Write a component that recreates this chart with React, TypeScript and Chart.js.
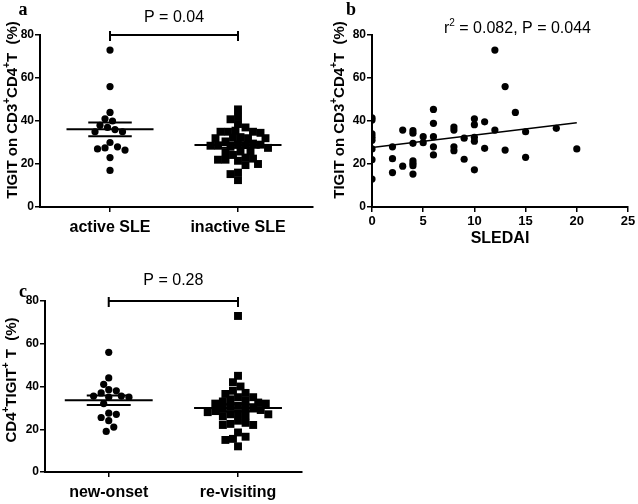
import React, { useEffect, useRef } from "react";
import { Chart, registerables } from "chart.js";

Chart.register(...registerables);

// ---------------- DATA ----------------
const groupsA = ["active SLE", "inactive SLE"];
const activeSLE = [73, 56, 44, 40, 41, 37, 38, 36, 35, 35, 30, 28, 27.5, 26.5, 27, 23, 17];
const inactiveSLE = [
  45.4, 42, 40.8, 38.6, 37, 35.5, 35, 35, 35, 34.5, 32.5, 32.3, 32, 32, 32, 30.5, 29.5, 29, 29,
  28.8, 28.5, 28.5, 28, 27.5, 26, 25.8, 25.5, 24.2, 23, 22.5, 22, 22, 21.5, 20, 19.5, 16, 15.3, 12.5,
];
const pTextA = "P = 0.04";

const sledai = [
  0, 0, 0, 0, 0, 0, 0, 0,
  2, 2, 2,
  3, 3,
  4, 4, 4, 4, 4, 4, 4,
  5, 5,
  6, 6, 6, 6, 6,
  8, 8, 8, 8,
  9, 9,
  10, 10, 10, 10, 10,
  11, 11,
  12, 12,
  13, 13,
  14,
  15, 15,
  18,
  20,
];
const tigitB = [
  41.5, 40.5, 34, 32.5, 31, 27, 22, 13,
  28, 22.5, 16,
  35.8, 19,
  35.5, 34.3, 29.6, 21.5, 20.3, 19.2, 15.3,
  32.7, 29.9,
  45.4, 38.9, 32.7, 28, 24.2,
  37.2, 35.8, 28, 26.2,
  32, 22.2,
  41, 38.3, 32.4, 30.6, 17.3,
  39.6, 27.3,
  73, 35.8,
  56, 26.5,
  44,
  35, 23.1,
  36.6,
  27,
];
const fitX = [0, 20];
const fitY = [27.7, 39.2];
const statTextB = [{ t: "r" }, { t: "2", sup: true }, { t: " = 0.082, P = 0.044" }];
const xTicksB = [0, 5, 10, 15, 20, 25];

const groupsC = ["new-onset", "re-visiting"];
const newOnset = [56, 44, 41, 38, 38.5, 37, 35.5, 35.5, 35, 35, 32, 27.5, 27, 25.5, 24, 21, 19];
const reVisiting = [
  73, 45, 42, 40, 38, 37, 36.5, 35, 35, 34, 33.5, 33, 32.5, 32, 32, 31, 30.5, 30, 30, 29.5,
  29, 28.5, 28, 27.5, 27, 27, 26.5, 26, 24, 23, 22.5, 22, 22, 18.5, 16.5, 15.5, 15, 12,
];
const pTextC = "P = 0.28";

const yTicks = [0, 20, 40, 60, 80];
const yTitleAB = [{ t: "TIGIT on CD3" }, { t: "+", sup: true }, { t: "CD4" }, { t: "+", sup: true }, { t: "T  (%)" }];
const yTitleC = [{ t: "CD4" }, { t: "+", sup: true }, { t: "TIGIT" }, { t: "+", sup: true }, { t: " T  (%)" }];

// ---------------- HELPERS ----------------
const FONT = "'Liberation Sans', Arial, Helvetica, sans-serif";
const SERIF = "'Liberation Serif', 'Times New Roman', serif";

type Seg = { t: string; sup?: boolean };

function drawRich(
  ctx: CanvasRenderingContext2D,
  segs: Seg[],
  cx: number,
  cy: number,
  size: number,
  weight: string,
  rotate: boolean
) {
  ctx.save();
  ctx.translate(cx, cy);
  if (rotate) ctx.rotate(-Math.PI / 2);
  const fontFor = (s: Seg) => `${weight} ${s.sup ? Math.round(size * 0.65) : size}px ${FONT}`;
  let total = 0;
  const widths = segs.map((s) => {
    ctx.font = fontFor(s);
    const w = ctx.measureText(s.t).width;
    total += w;
    return w;
  });
  let x = -total / 2;
  ctx.fillStyle = "#000";
  ctx.textAlign = "left";
  ctx.textBaseline = "middle";
  segs.forEach((s, i) => {
    ctx.font = fontFor(s);
    ctx.fillText(s.t, x, s.sup ? -size * 0.38 : 0);
    x += widths[i];
  });
  ctx.restore();
}

function drawText(ctx: CanvasRenderingContext2D, t: string, x: number, y: number, font: string) {
  ctx.save();
  ctx.font = font;
  ctx.fillStyle = "#000";
  ctx.textAlign = "center";
  ctx.textBaseline = "middle";
  ctx.fillText(t, x, y);
  ctx.restore();
}

// beeswarm placement computed from the values (pixel-space collision on a fine grid)
function beeswarm(values: number[], pxPerY: number, pxPerX: number, dist: number, gridPx: number): number[] {
  const order = values.map((_, i) => i).sort((a, b) => values[b] - values[a]);
  const out = new Array(values.length).fill(0);
  const placed: { x: number; y: number }[] = [];
  let flip = false;
  for (const i of order) {
    const y = values[i] * pxPerY;
    let found = false;
    for (let d = 0; d <= 100 && !found; d += gridPx) {
      const signs = d === 0 ? [1] : flip ? [1, -1] : [-1, 1];
      for (const s of signs) {
        const x = s * d;
        const ok = placed.every((p) => (p.x - x) ** 2 + (p.y - y) ** 2 >= dist * dist);
        if (ok) {
          placed.push({ x, y });
          out[i] = x / pxPerX;
          found = true;
          if (d > 0) flip = !flip;
          break;
        }
      }
    }
  }
  return out;
}

function stats(values: number[]) {
  const n = values.length;
  const mean = values.reduce((a, b) => a + b, 0) / n;
  const sd = Math.sqrt(values.reduce((a, b) => a + (b - mean) ** 2, 0) / (n - 1));
  return { mean, sem: sd / Math.sqrt(n) };
}

function lineDs(x0: number, x1: number, y: number, w = 2) {
  return {
    data: [
      { x: x0, y },
      { x: x1, y },
    ],
    showLine: true,
    borderColor: "#000",
    borderWidth: w,
    pointRadius: 0,
    fill: false,
  };
}

function groupDatasets(values: number[], cat: number, style: "circle" | "rect") {
  const offs = beeswarm(values, 2.15, 128, 7, 2.5);
  const { mean, sem } = stats(values);
  return [
    lineDs(cat - 0.34, cat + 0.34, mean),
    lineDs(cat - 0.17, cat + 0.17, mean + sem),
    lineDs(cat - 0.17, cat + 0.17, mean - sem),
    {
      data: values.map((v, i) => ({ x: cat + offs[i], y: v })),
      showLine: false,
      pointStyle: style,
      pointRadius: style === "rect" ? 5.6 : 3.6,
      pointBackgroundColor: "#000",
      pointBorderWidth: 0,
      borderColor: "#000",
    },
  ];
}

const gridStyle = {
  display: true,
  drawOnChartArea: false,
  drawTicks: true,
  tickLength: 5,
  color: "#000",
  lineWidth: 1.5,
};
const borderStyle = { display: true, color: "#000", width: 2 };

function yAxis(width: number) {
  return {
    type: "linear",
    min: 0,
    max: 80,
    afterBuildTicks: (s: any) => {
      s.ticks = yTicks.map((v) => ({ value: v }));
    },
    ticks: { color: "#000", font: { family: FONT, weight: "bold", size: 12 }, padding: 1 },
    grid: gridStyle,
    border: borderStyle,
    afterFit: (s: any) => {
      s.width = width;
    },
  };
}

function dotConfig(
  groups: string[],
  g1: number[],
  g2: number[],
  xmin: number,
  xmax: number,
  pad: any,
  yWidth: number,
  xHeight: number,
  extra: (chart: any) => void
) {
  return {
    type: "scatter",
    data: {
      datasets: [...groupDatasets(g1, 0, "circle"), ...groupDatasets(g2, 1, "rect")],
    },
    options: {
      animation: false,
      responsive: false,
      devicePixelRatio: 1,
      layout: { padding: pad },
      plugins: { legend: { display: false }, tooltip: { enabled: false } },
      scales: {
        x: {
          type: "linear",
          min: xmin,
          max: xmax,
          afterBuildTicks: (s: any) => {
            s.ticks = [0, 1].map((v) => ({ value: v }));
          },
          ticks: {
            color: "#000",
            autoSkip: false,
            maxRotation: 0,
            padding: 6,
            font: { family: FONT, weight: "bold", size: 16 },
            callback: (v: any) => groups[Math.round(Number(v))],
          },
          grid: gridStyle,
          border: borderStyle,
          afterFit: (s: any) => {
            s.height = xHeight;
          },
        },
        y: yAxis(yWidth),
      },
    },
    plugins: [{ id: "decor", afterDraw: extra }],
  };
}

function bracket(chart: any, text: string, textY: number) {
  const ctx = chart.ctx;
  const xs = chart.scales.x;
  const ys = chart.scales.y;
  const x0 = xs.getPixelForValue(0);
  const x1 = xs.getPixelForValue(1);
  const y = ys.getPixelForValue(80);
  ctx.save();
  ctx.strokeStyle = "#000";
  ctx.lineWidth = 2;
  ctx.beginPath();
  ctx.moveTo(x0, y);
  ctx.lineTo(x1, y);
  ctx.moveTo(x0, y - 4);
  ctx.lineTo(x0, y + 6);
  ctx.moveTo(x1, y - 4);
  ctx.lineTo(x1, y + 6);
  ctx.stroke();
  ctx.restore();
  drawText(ctx, text, (x0 + x1) / 2, textY, `16px ${FONT}`);
}

const configA = () =>
  dotConfig(groupsA, activeSLE, inactiveSLE, -0.547, 1.586, { left: 0, top: 35, right: 7, bottom: 0 }, 40, 43, (chart: any) => {
    const ctx = chart.ctx;
    drawText(ctx, "a", 23, 10, `bold 18px ${SERIF}`);
    bracket(chart, pTextA, 17.5);
    drawRich(ctx, yTitleAB, 12.5, 110, 15, "bold", true);
  });

const configC = () =>
  dotConfig(groupsC, newOnset, reVisiting, -0.493, 1.495, { left: 0, top: 51, right: 18, bottom: 0 }, 45, 32, (chart: any) => {
    const ctx = chart.ctx;
    drawText(ctx, "c", 23, 42, `bold 18px ${SERIF}`);
    bracket(chart, pTextC, 31);
    drawRich(ctx, yTitleC, 12, 130, 15, "bold", true);
  });

const configB = () => ({
  type: "scatter",
  data: {
    datasets: [
      {
        data: fitX.map((x, i) => ({ x, y: fitY[i] })),
        showLine: true,
        borderColor: "#000",
        borderWidth: 1.6,
        pointRadius: 0,
      },
      {
        data: sledai.map((x, i) => ({ x, y: tigitB[i] })),
        showLine: false,
        pointStyle: "circle",
        pointRadius: 3.6,
        pointBackgroundColor: "#000",
        pointBorderWidth: 0,
      },
    ],
  },
  options: {
    animation: false,
    responsive: false,
    devicePixelRatio: 1,
    layout: { padding: { left: 0, top: 35, right: 10, bottom: 0 } },
    plugins: { legend: { display: false }, tooltip: { enabled: false } },
    scales: {
      x: {
        type: "linear",
        min: 0,
        max: 25,
        afterBuildTicks: (s: any) => {
          s.ticks = xTicksB.map((v) => ({ value: v }));
        },
        ticks: { color: "#000", autoSkip: false, maxRotation: 0, padding: 2, font: { family: FONT, weight: "bold", size: 13 } },
        title: {
          display: true,
          text: "SLEDAI",
          color: "#000",
          font: { family: FONT, weight: "bold", size: 16 },
          padding: { top: 4, bottom: 2 },
        },
        grid: gridStyle,
        border: borderStyle,
        afterFit: (s: any) => {
          s.height = 43;
        },
      },
      y: yAxis(52),
    },
  },
  plugins: [
    {
      id: "decorB",
      afterDraw: (chart: any) => {
        const ctx = chart.ctx;
        drawText(ctx, "b", 31, 10, `bold 18px ${SERIF}`);
        drawRich(ctx, statTextB, 197.5, 29, 16, "normal", false);
        drawRich(ctx, yTitleAB, 20, 110, 15, "bold", true);
      },
    },
  ],
});

function Panel({ left, top, width, height, make }: any) {
  const ref = useRef<HTMLCanvasElement>(null);
  useEffect(() => {
    if (!ref.current) return;
    const chart = new Chart(ref.current, make());
    return () => chart.destroy();
  }, []);
  return (
    <div style={{ position: "absolute", left, top, width, height }}>
      <canvas ref={ref} width={width} height={height} style={{ display: "block", width, height }} />
    </div>
  );
}

export default function App() {
  return (
    <div style={{ position: "absolute", left: 0, top: 0, width: 638, height: 504, background: "#fff" }}>
      <Panel left={0} top={0} width={320} height={250} make={configA} />
      <Panel left={320} top={0} width={318} height={250} make={configB} />
      <Panel left={0} top={250} width={320} height={254} make={configC} />
    </div>
  );
}
